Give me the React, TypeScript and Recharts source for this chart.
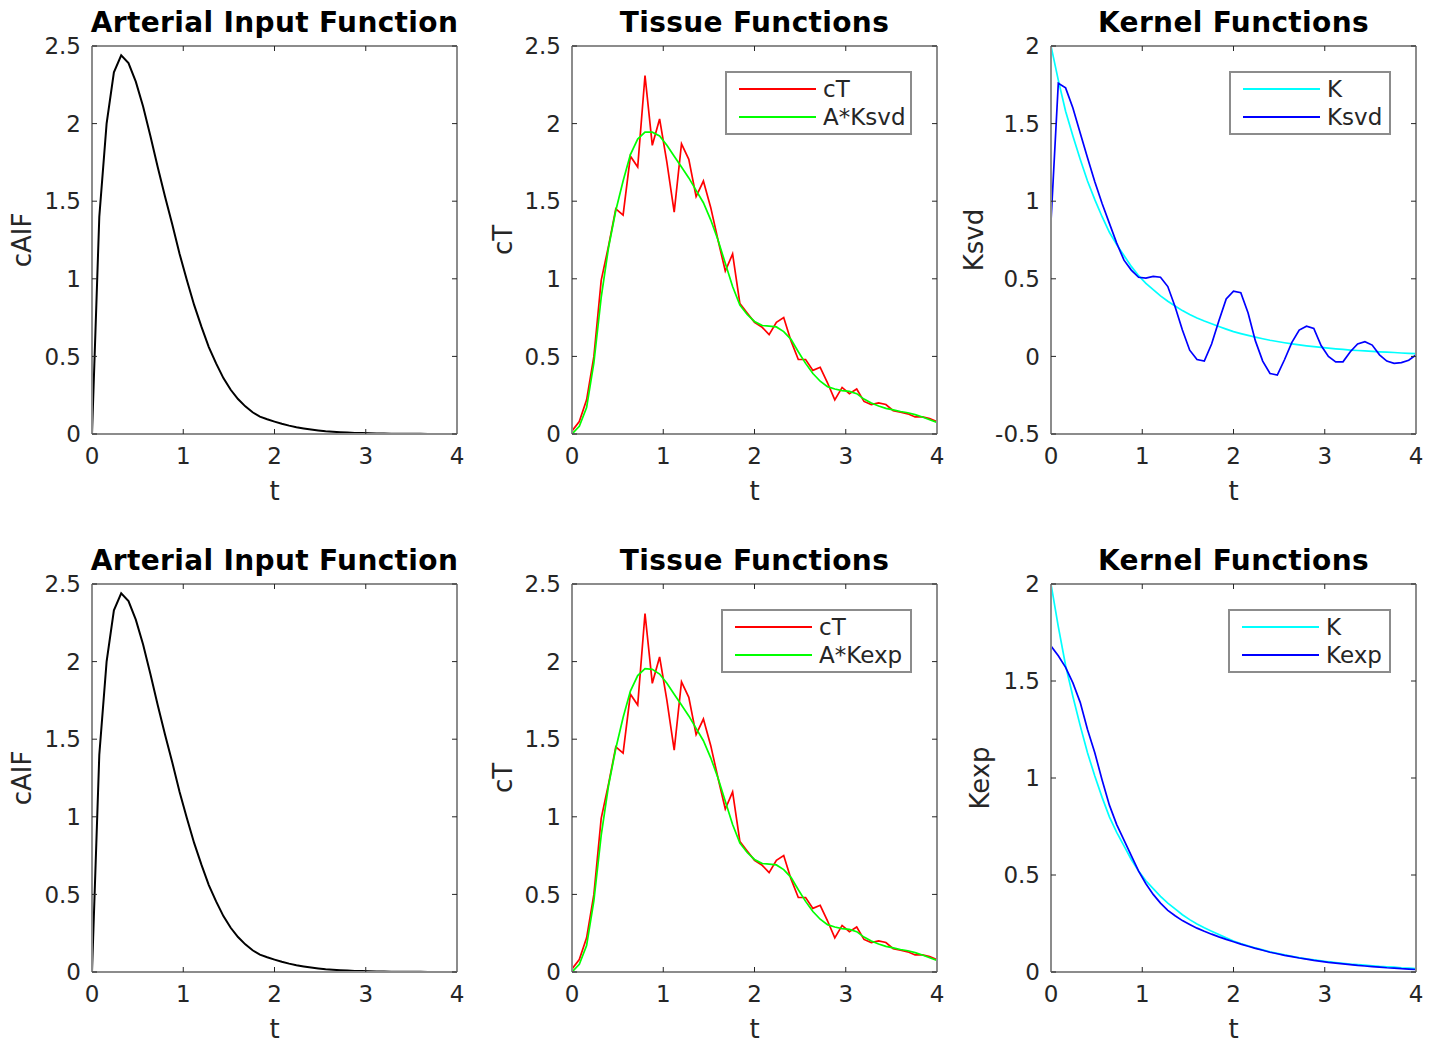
import React from "react";
import { LineChart, Line, XAxis, YAxis, Legend } from "recharts";

// sample times (s)
const tVals = [
  0, 0.08, 0.16, 0.24, 0.32, 0.4, 0.48, 0.56, 0.64, 0.72,
  0.8, 0.88, 0.96, 1.04, 1.12, 1.2, 1.28, 1.36, 1.44, 1.52,
  1.6, 1.68, 1.76, 1.84, 1.92, 2, 2.08, 2.16, 2.24, 2.32,
  2.4, 2.48, 2.56, 2.64, 2.72, 2.8, 2.88, 2.96, 3.04, 3.12,
  3.2, 3.28, 3.36, 3.44, 3.52, 3.6, 3.68, 3.76, 3.84, 3.92, 4,
];

const aifVals = [
  0, 1.4, 2.0, 2.33, 2.44, 2.39, 2.27, 2.11, 1.92, 1.72,
  1.53, 1.35, 1.16, 0.99, 0.83, 0.69, 0.56, 0.455, 0.36, 0.285,
  0.225, 0.178, 0.14, 0.112, 0.095, 0.08, 0.066, 0.054, 0.044, 0.036,
  0.029, 0.023, 0.018, 0.015, 0.012, 0.009, 0.007, 0.006, 0.005, 0.004,
  0.003, 0.002, 0.002, 0.001, 0.001, 0.001, 0, 0, 0, 0, 0,
];

const cTVals = [
  0.02, 0.08, 0.22, 0.5, 0.99, 1.21, 1.45, 1.41, 1.79, 1.72,
  2.31, 1.86, 2.03, 1.75, 1.43, 1.87, 1.77, 1.53, 1.63, 1.46,
  1.25, 1.05, 1.16, 0.84, 0.78, 0.72, 0.69, 0.64, 0.72, 0.75,
  0.6, 0.48, 0.48, 0.41, 0.43, 0.33, 0.22, 0.3, 0.26, 0.29,
  0.21, 0.19, 0.2, 0.19, 0.15, 0.14, 0.13, 0.11, 0.11, 0.1, 0.08,
];

const fitSvdVals = [
  0, 0.05, 0.17, 0.46, 0.88, 1.2, 1.44, 1.63, 1.8, 1.9,
  1.945, 1.945, 1.92, 1.86, 1.79, 1.72, 1.65, 1.57, 1.49, 1.38,
  1.25, 1.1, 0.95, 0.83, 0.77, 0.725, 0.7, 0.695, 0.69, 0.66,
  0.61, 0.53, 0.455, 0.39, 0.34, 0.305, 0.29, 0.28, 0.275, 0.26,
  0.225, 0.2, 0.18, 0.165, 0.155, 0.145, 0.137, 0.125, 0.11, 0.092, 0.075,
];

const fitExpVals = [
  0, 0.05, 0.17, 0.46, 0.88, 1.2, 1.44, 1.64, 1.81, 1.91,
  1.955, 1.95, 1.92, 1.86, 1.79, 1.72, 1.65, 1.57, 1.49, 1.38,
  1.25, 1.1, 0.95, 0.83, 0.77, 0.725, 0.7, 0.695, 0.69, 0.66,
  0.61, 0.53, 0.455, 0.39, 0.34, 0.305, 0.29, 0.28, 0.275, 0.26,
  0.225, 0.2, 0.18, 0.165, 0.155, 0.145, 0.137, 0.125, 0.11, 0.092, 0.075,
];

const kVals = [
  2.0, 1.78, 1.58, 1.42, 1.27, 1.13, 1.01, 0.9, 0.8, 0.72,
  0.65, 0.58, 0.52, 0.47, 0.43, 0.39, 0.355, 0.325, 0.295, 0.27,
  0.248, 0.228, 0.21, 0.193, 0.176, 0.16, 0.147, 0.135, 0.124, 0.114,
  0.104, 0.096, 0.088, 0.081, 0.074, 0.068, 0.063, 0.058, 0.053, 0.049,
  0.045, 0.041, 0.038, 0.035, 0.032, 0.029, 0.027, 0.025, 0.022, 0.02, 0.018,
];

const kSvdVals = [
  0.87, 1.76, 1.73, 1.6, 1.44, 1.28, 1.125, 0.985, 0.857, 0.73,
  0.62, 0.556, 0.51, 0.505, 0.515, 0.51, 0.45, 0.32, 0.17, 0.04,
  -0.02, -0.03, 0.08, 0.23, 0.37, 0.42, 0.41, 0.28, 0.1, -0.03,
  -0.11, -0.12, -0.02, 0.09, 0.17, 0.195, 0.18, 0.07, 0, -0.035,
  -0.035, 0.03, 0.08, 0.095, 0.073, 0.01, -0.03, -0.045, -0.04, -0.025, 0.01,
];

const kExpVals = [
  1.68, 1.63, 1.57, 1.49, 1.39, 1.25, 1.13, 0.99, 0.86, 0.76,
  0.68, 0.6, 0.52, 0.455, 0.4, 0.355, 0.318, 0.29, 0.265, 0.245,
  0.226, 0.21, 0.195, 0.181, 0.168, 0.156, 0.144, 0.133, 0.122, 0.112,
  0.102, 0.094, 0.086, 0.079, 0.072, 0.066, 0.06, 0.055, 0.05, 0.046,
  0.042, 0.038, 0.034, 0.031, 0.028, 0.025, 0.022, 0.02, 0.017, 0.015, 0.013,
];

const xTicks = [0, 1, 2, 3, 4];
const concTicks = [0, 0.5, 1, 1.5, 2, 2.5];
const svdTicks = [-0.5, 0, 0.5, 1, 1.5, 2];
const expTicks = [0, 0.5, 1, 1.5, 2];

const rows = tVals.map((t, i) => ({
  t,
  aif: aifVals[i],
  cT: cTVals[i],
  fitSvd: fitSvdVals[i],
  fitExp: fitExpVals[i],
  K: kVals[i],
  Ksvd: kSvdVals[i],
  Kexp: kExpVals[i],
}));

const FONT = "DejaVu Sans, Verdana, sans-serif";
const BOX = "#8c8c8c";
const TICK = "#262626";

// plot box is 365 x 388; the top / right axes are 1px wide so they get drawn
const PLOT_W = 365;
const PLOT_H = 388;
const M = { top: 39, right: 10, bottom: 24, left: 30 };
const Y_W = 70;
const X_H = 60;
const PLOT_LEFT = M.left + Y_W;
const PLOT_TOP = M.top + 1;
const CHART_W = PLOT_LEFT + PLOT_W + 1 + M.right;
const CHART_H = PLOT_TOP + PLOT_H + X_H + M.bottom;

type Series = { key: string; name: string; color: string; width: number };
type LegendCfg = { w: number };

interface PanelProps {
  left: number;
  top: number;
  title: string;
  yLabel: string;
  yGap: number;
  yDomain: [number, number];
  yTicks: number[];
  series: Series[];
  legend?: LegendCfg;
}

const TitleText = (p: any) => {
  const vb = p.viewBox || {};
  return (
    <text
      x={vb.x + vb.width / 2}
      y={vb.y + vb.height - 14}
      textAnchor="middle"
      fill="#000"
      style={{ fontFamily: FONT, fontSize: 28, fontWeight: 700, letterSpacing: 0.35 }}
    >
      {p.value}
    </text>
  );
};

const XTitle = (p: any) => {
  const vb = p.viewBox || {};
  return (
    <text
      x={vb.x + vb.width / 2}
      y={vb.y + 66}
      textAnchor="middle"
      fill={TICK}
      style={{ fontFamily: FONT, fontSize: 26 }}
    >
      {p.value}
    </text>
  );
};

const YTitle = (p: any) => {
  const vb = p.viewBox || {};
  const x = vb.x + vb.width - p.gap;
  const y = vb.y + vb.height / 2;
  return (
    <text
      x={x}
      y={y}
      transform={`rotate(-90 ${x} ${y})`}
      textAnchor="middle"
      fill={TICK}
      style={{ fontFamily: FONT, fontSize: 26 }}
    >
      {p.value}
    </text>
  );
};

const NoLabel = () => null;

const BoxLegend = ({ items, w }: { items: any[]; w: number }) => (
  <div
    style={{
      position: "relative",
      width: w,
      height: 64,
      border: `2px solid ${BOX}`,
      boxSizing: "border-box",
      backgroundColor: "#fff",
      fontFamily: FONT,
    }}
  >
    {items.map((item, i) => (
      <div key={item.value} style={{ position: "absolute", left: 0, top: 2 + i * 28, height: 28, width: "100%" }}>
        <svg width={80} height={28} style={{ position: "absolute", left: 12, top: 0 }}>
          <line x1={0} x2={77} y1={14} y2={14} stroke={item.color} strokeWidth={2} />
        </svg>
        <span
          style={{
            position: "absolute",
            left: 96,
            top: 0,
            fontSize: 23,
            lineHeight: "28px",
            color: TICK,
            whiteSpace: "nowrap",
          }}
        >
          {item.value}
        </span>
      </div>
    ))}
  </div>
);

function Panel({ left, top, title, yLabel, yGap, yDomain, yTicks, series, legend }: PanelProps) {
  const tickStyle = { fontSize: 23, fill: TICK, fontFamily: FONT };
  return (
    <div style={{ position: "absolute", left, top, width: CHART_W, height: CHART_H }}>
      <LineChart width={CHART_W} height={CHART_H} data={rows} margin={M}>
        <XAxis
          xAxisId="b"
          dataKey="t"
          type="number"
          domain={[0, 4]}
          allowDataOverflow
          ticks={xTicks}
          interval={0}
          height={X_H}
          tickSize={-5}
          tickMargin={19}
          tickLine={{ stroke: TICK, strokeWidth: 1 }}
          axisLine={{ stroke: BOX, strokeWidth: 2 }}
          tick={tickStyle}
          label={{ value: "t", content: (p: any) => <XTitle {...p} value="t" /> }}
        />
        <XAxis
          xAxisId="top"
          orientation="top"
          dataKey="t"
          type="number"
          domain={[0, 4]}
          allowDataOverflow
          ticks={xTicks}
          interval={0}
          height={1}
          tickSize={-5}
          tickLine={{ stroke: TICK, strokeWidth: 1 }}
          axisLine={{ stroke: BOX, strokeWidth: 2 }}
          tick={<NoLabel />}
          label={{ value: title, content: (p: any) => <TitleText {...p} value={title} /> }}
        />
        <YAxis
          yAxisId="l"
          type="number"
          domain={yDomain}
          allowDataOverflow
          ticks={yTicks}
          interval={0}
          width={Y_W}
          tickSize={-5}
          tickMargin={16}
          tickLine={{ stroke: TICK, strokeWidth: 1 }}
          axisLine={{ stroke: BOX, strokeWidth: 2 }}
          tick={tickStyle}
          label={{ value: yLabel, content: (p: any) => <YTitle {...p} value={yLabel} gap={yGap} /> }}
        />
        <YAxis
          yAxisId="r"
          orientation="right"
          type="number"
          domain={yDomain}
          allowDataOverflow
          ticks={yTicks}
          interval={0}
          width={1}
          tickSize={-5}
          tickLine={{ stroke: TICK, strokeWidth: 1 }}
          axisLine={{ stroke: BOX, strokeWidth: 2 }}
          tick={<NoLabel />}
        />
        {series.map((s) => (
          <Line
            key={s.key}
            xAxisId="b"
            yAxisId="l"
            type="linear"
            dataKey={s.key}
            name={s.name}
            stroke={s.color}
            strokeWidth={s.width}
            dot={false}
            activeDot={false}
            isAnimationActive={false}
          />
        ))}
        {legend && (
          <Legend
            layout="vertical"
            align="center"
            verticalAlign="middle"
            wrapperStyle={{
              top: PLOT_TOP + 25,
              left: PLOT_LEFT + PLOT_W - 25 - legend.w,
              width: legend.w,
              height: 64,
            }}
            content={(props: any) => {
              const payload = props.payload || [];
              // keep the plotting order, not the legend's alphabetical one
              const items = series
                .map((s) => payload.find((p: any) => p.dataKey === s.key))
                .filter(Boolean);
              return <BoxLegend items={items} w={legend.w} />;
            }}
          />
        )}
      </LineChart>
    </div>
  );
}

const colLeft = [92, 572, 1051].map((x) => x - PLOT_LEFT);
const rowTop = [46, 584].map((y) => y - PLOT_TOP);

const aifSeries = [{ key: "aif", name: "cAIF", color: "#000000", width: 2 }];
const svdTissue = [
  { key: "cT", name: "cT", color: "#ff0000", width: 1.7 },
  { key: "fitSvd", name: "A*Ksvd", color: "#00ff00", width: 1.7 },
];
const expTissue = [
  { key: "cT", name: "cT", color: "#ff0000", width: 1.7 },
  { key: "fitExp", name: "A*Kexp", color: "#00ff00", width: 1.7 },
];
const svdKernel = [
  { key: "K", name: "K", color: "#00ffff", width: 1.7 },
  { key: "Ksvd", name: "Ksvd", color: "#0000ff", width: 1.7 },
];
const expKernel = [
  { key: "K", name: "K", color: "#00ffff", width: 1.7 },
  { key: "Kexp", name: "Kexp", color: "#0000ff", width: 1.7 },
];

export default function App() {
  return (
    <div style={{ position: "absolute", left: 0, top: 0, width: 1437, height: 1044, backgroundColor: "#fff", overflow: "hidden" }}>
      <Panel left={colLeft[0]} top={rowTop[0]} title="Arterial Input Function" yLabel="cAIF" yGap={61}
        yDomain={[0, 2.5]} yTicks={concTicks} series={aifSeries} />
      <Panel left={colLeft[1]} top={rowTop[0]} title="Tissue Functions" yLabel="cT" yGap={60}
        yDomain={[0, 2.5]} yTicks={concTicks} series={svdTissue} legend={{ w: 187 }} />
      <Panel left={colLeft[2]} top={rowTop[0]} title="Kernel Functions" yLabel="Ksvd" yGap={68}
        yDomain={[-0.5, 2]} yTicks={svdTicks} series={svdKernel} legend={{ w: 162 }} />
      <Panel left={colLeft[0]} top={rowTop[1]} title="Arterial Input Function" yLabel="cAIF" yGap={61}
        yDomain={[0, 2.5]} yTicks={concTicks} series={aifSeries} />
      <Panel left={colLeft[1]} top={rowTop[1]} title="Tissue Functions" yLabel="cT" yGap={60}
        yDomain={[0, 2.5]} yTicks={concTicks} series={expTissue} legend={{ w: 191 }} />
      <Panel left={colLeft[2]} top={rowTop[1]} title="Kernel Functions" yLabel="Kexp" yGap={62}
        yDomain={[0, 2]} yTicks={expTicks} series={expKernel} legend={{ w: 163 }} />
    </div>
  );
}
